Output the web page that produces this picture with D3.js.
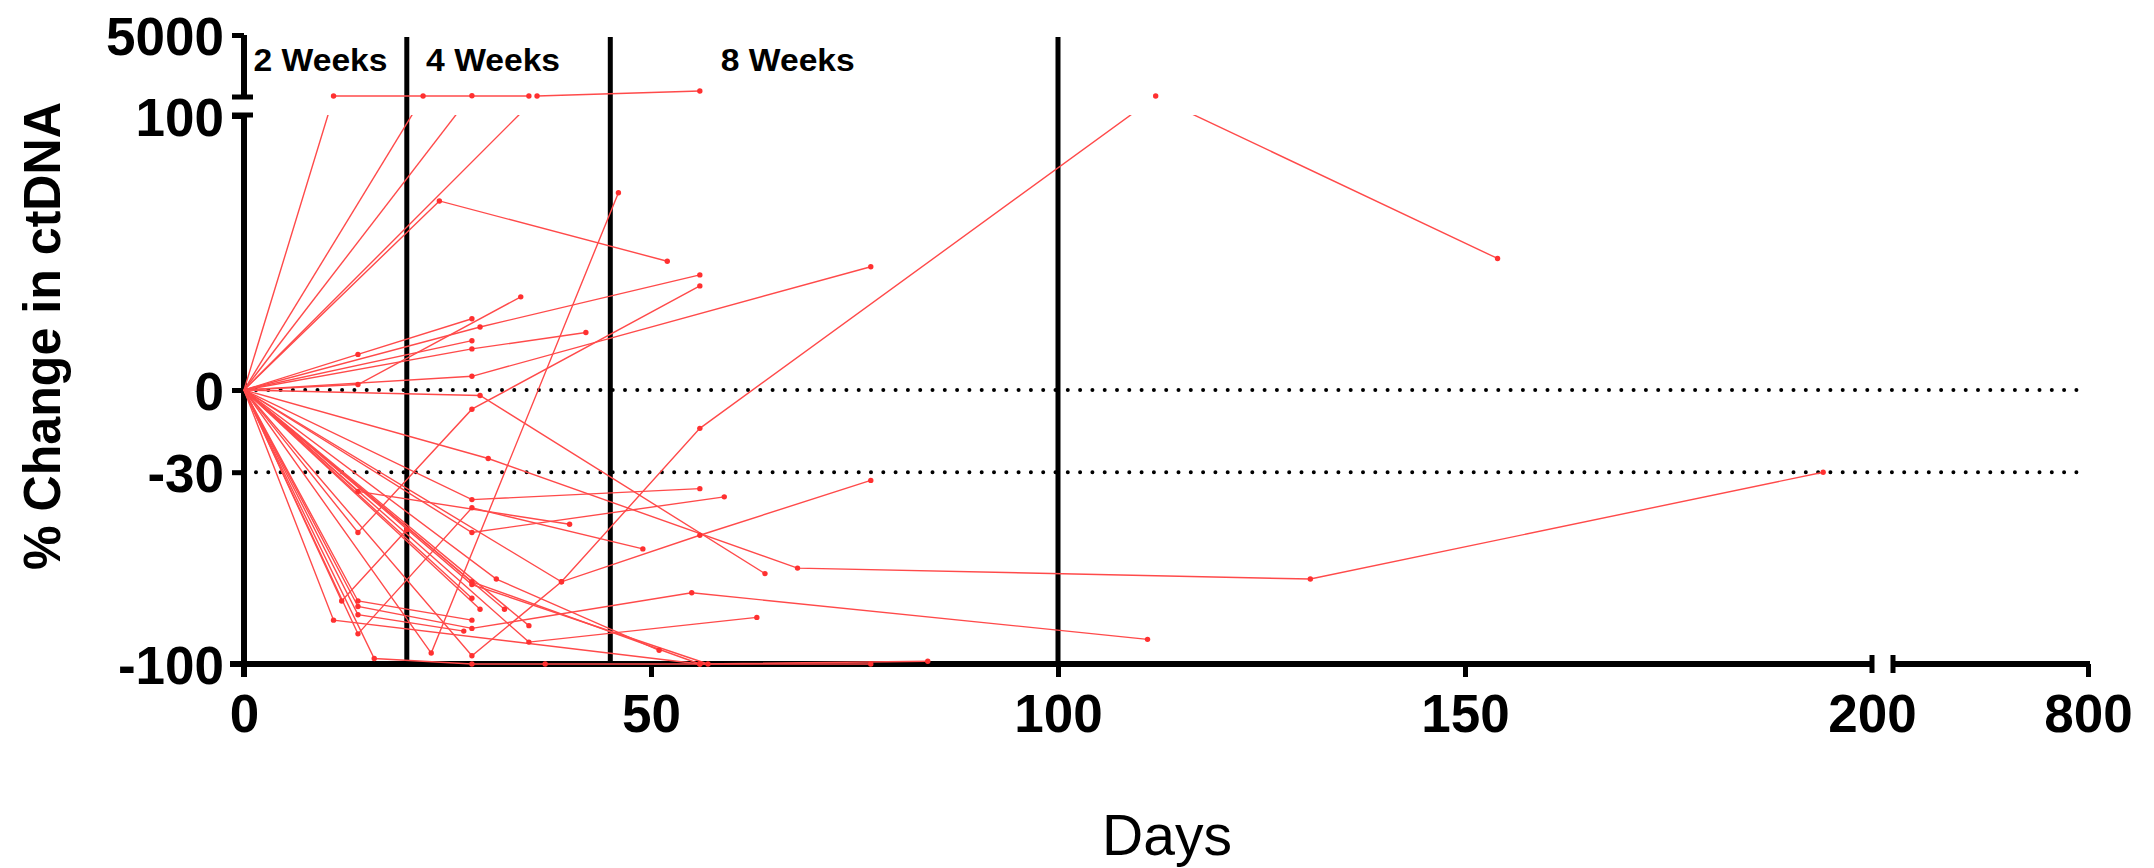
<!DOCTYPE html>
<html>
<head>
<meta charset="utf-8">
<script src="https://cdn.jsdelivr.net/npm/d3@7"></script>
<style>
  html, body { margin: 0; padding: 0; background: #ffffff; }
  svg { display: block; }
</style>
</head>
<body>
<svg id="chart" width="2154" height="868"></svg>
<script>
// ---------------- data (day, % change in ctDNA) ----------------
const p01 = [[0,0],[11,107],[35,107]];
const p02 = [[0,0],[22,107]];
const p03 = [[0,0],[28,108]];
const p04 = [[0,0],[36,107],[56,146]];
const p05 = [[0,0],[24,69],[52,47]];
const p06 = [[0,0],[23,-96],[46,72]];
const p07 = [[0,0],[14,2],[34,34]];
const p08 = [[0,0],[14,13],[28,26]];
const p09 = [[0,0],[29,23],[56,42]];
const p10 = [[0,0],[28,18]];
const p11 = [[0,0],[28,15],[42,21]];
const p12 = [[0,0],[28,5],[77,45]];
const p13 = [[0,0],[14,-52],[28,-7],[56,38]];
const p14 = [[0,0],[29,-2],[64,-67]];
const p15 = [[0,0],[28,-97],[39,-70],[56,-14],[112,107],[154,48]];
const p16 = [[0,0],[30,-25],[68,-65],[131,-69],[194,-30]];
const p17 = [[0,0],[14,-89],[28,-43],[49,-58]];
const p18 = [[0,0],[39,-70],[56,-53],[77,-33]];
const p19 = [[0,0],[28,-40],[56,-36]];
const p20 = [[0,0],[14,-37],[40,-49]];
const p21 = [[0,0],[28,-52],[59,-39]];
const p22 = [[0,0],[14,-79],[28,-87],[55,-74],[111,-91]];
const p23 = [[0,0],[14,-82],[27,-88]];
const p24 = [[0,0],[14,-77],[28,-84]];
const p25 = [[0,0],[16,-98],[28,-100],[37,-100],[77,-100]];
const p26 = [[0,0],[11,-84],[56,-100],[84,-99]];
const p27 = [[0,0],[12,-77],[20,-51]];
const p28 = [[0,0],[31,-69],[51,-95]];
const p29 = [[0,0],[28,-70],[56,-100]];
const p30 = [[0,0],[28,-71],[57,-100]];
const p31 = [[0,0],[28,-76]];
const p32 = [[0,0],[29,-80]];
const p33 = [[0,0],[32,-80]];
const p34 = [[0,0],[35,-86]];
const p35 = [[0,0],[35,-92],[63,-83]];
const patients = [p01,p02,p03,p04,p05,p06,p07,p08,p09,p10,p11,p12,p13,p14,p15,p16,p17,p18,
                  p19,p20,p21,p22,p23,p24,p25,p26,p27,p28,p29,p30,p31,p32,p33,p34,p35];

const xTicksMain = [0, 50, 100, 150, 200];
const xTicksTail = [800];
const yTicksLow = [-100, -30, 0, 100];
const yTicksHigh = [5000];
const refLevels = [0, -30];
const weekDays = [20, 45, 100];
const weekLabels = ["2 Weeks", "4 Weeks", "8 Weeks"];
const weekLabelDays = [9.4, 30.6, 66.8];

// ---------------- scales ----------------
const x = d3.scaleLinear().domain([0, 200]).range([244, 1872]);
const xTail = d3.scaleLinear().domain([200, 800]).range([1893, 2088]);
const yLow = d3.scaleLinear().domain([-100, 100]).range([664, 116]);
const yHigh = d3.scaleLog().domain([100, 5000]).range([97, 35]);

const svg = d3.select("#chart");
const FONT = "'Liberation Sans', Arial, Helvetica, sans-serif";
const RED_LINE = "#ff4a4a";
const RED_PT = "#ff3030";
const fmt = d => String(d);   // plain hyphen-minus like the original

// ---------------- week separators ----------------
svg.append("g").selectAll("line").data(weekDays).join("line")
  .attr("x1", d => x(d)).attr("x2", d => x(d))
  .attr("y1", 37).attr("y2", yLow(-100))
  .attr("stroke", "#000").attr("stroke-width", 5);

svg.append("g").selectAll("text").data(weekLabels).join("text")
  .attr("x", (d, i) => x(weekLabelDays[i]))
  .attr("y", 71)
  .attr("text-anchor", "middle")
  .attr("font-family", FONT).attr("font-weight", "bold").attr("font-size", 31)
  .attr("textLength", 134).attr("lengthAdjust", "spacingAndGlyphs")
  .text(d => d);

// ---------------- dotted reference lines ----------------
svg.append("g").selectAll("line").data(refLevels).join("line")
  .attr("x1", 256).attr("x2", xTail(800))
  .attr("y1", d => yLow(d)).attr("y2", d => yLow(d))
  .attr("stroke", "#000").attr("stroke-width", 4)
  .attr("stroke-linecap", "round").attr("stroke-dasharray", "0,12.3");

// ---------------- axes ----------------
function styleAxis(g) {
  g.selectAll(".domain").remove();
  g.selectAll(".tick line").attr("stroke", "#000").attr("stroke-width", 5);
  g.selectAll(".tick text").attr("font-family", FONT).attr("font-weight", "bold")
    .attr("font-size", 53).attr("fill", "#000");
}

const gx = svg.append("g").attr("transform", `translate(0,${yLow(-100)})`)
  .call(d3.axisBottom(x).tickValues(xTicksMain.slice(0, 4)).tickSize(13).tickPadding(17).tickFormat(fmt));
styleAxis(gx);
const gx2 = svg.append("g").attr("transform", `translate(0,${yLow(-100)})`)
  .call(d3.axisBottom(x).tickValues([xTicksMain[4]]).tickSize(0).tickPadding(30).tickFormat(fmt));
styleAxis(gx2);
const gx3 = svg.append("g").attr("transform", `translate(0,${yLow(-100)})`)
  .call(d3.axisBottom(xTail).tickValues(xTicksTail).tickSize(13).tickPadding(17).tickFormat(fmt));
styleAxis(gx3);

svg.append("line").attr("x1", 230).attr("x2", x(200)).attr("y1", yLow(-100)).attr("y2", yLow(-100))
  .attr("stroke", "#000").attr("stroke-width", 6);
svg.append("line").attr("x1", xTail(200)).attr("x2", xTail(800) + 2).attr("y1", yLow(-100)).attr("y2", yLow(-100))
  .attr("stroke", "#000").attr("stroke-width", 6);
[x(200), xTail(200)].forEach(cx => {
  svg.append("line").attr("x1", cx).attr("x2", cx).attr("y1", yLow(-100) - 9).attr("y2", yLow(-100) + 9)
    .attr("stroke", "#000").attr("stroke-width", 5);
});

const gy = svg.append("g").attr("transform", "translate(244,0)")
  .call(d3.axisLeft(yLow).tickValues(yTicksLow).tickSize(12).tickPadding(8).tickFormat(fmt));
styleAxis(gy);
gy.selectAll(".tick text").attr("dy", "0.36em");
const gy2 = svg.append("g").attr("transform", "translate(244,0)")
  .call(d3.axisLeft(yHigh).tickValues(yTicksHigh).tickSize(12).tickPadding(8).tickFormat(fmt));
styleAxis(gy2);
gy2.selectAll(".tick text").attr("dy", "0.36em");

svg.append("line").attr("x1", 244).attr("x2", 244).attr("y1", 115).attr("y2", yLow(-100) + 13)
  .attr("stroke", "#000").attr("stroke-width", 6);
svg.append("line").attr("x1", 244).attr("x2", 244).attr("y1", yHigh(5000)).attr("y2", yHigh(100))
  .attr("stroke", "#000").attr("stroke-width", 6);
[115, yHigh(100)].forEach(cy => {
  svg.append("line").attr("x1", 232).attr("x2", 253).attr("y1", cy).attr("y2", cy)
    .attr("stroke", "#000").attr("stroke-width", 5);
});

svg.append("text")
  .attr("transform", "translate(60,336) rotate(-90)")
  .attr("text-anchor", "middle")
  .attr("font-family", FONT).attr("font-weight", "bold").attr("font-size", 52)
  .attr("textLength", 468).attr("lengthAdjust", "spacingAndGlyphs")
  .text("% Change in ctDNA");

svg.append("text")
  .attr("x", 1167).attr("y", 855)
  .attr("text-anchor", "middle")
  .attr("font-family", FONT).attr("font-size", 57)
  .text("Days");

// ---------------- data ----------------
const defs = svg.append("defs");
defs.append("clipPath").attr("id", "clipLow").append("rect")
  .attr("x", 0).attr("y", 115).attr("width", 2154).attr("height", 600);

const lineLow = d3.line().x(d => x(d[0])).y(d => yLow(d[1]));
const lineHigh = d3.line().x(d => x(d[0])).y(d => yHigh(d[1]));

const gData = svg.append("g");
gData.append("g").attr("clip-path", "url(#clipLow)")
  .selectAll("path").data(patients).join("path")
  .attr("d", lineLow)
  .attr("fill", "none").attr("stroke", RED_LINE).attr("stroke-width", 1.4);

const highSegs = [];
patients.forEach(p => {
  for (let i = 1; i < p.length; i++) {
    if (p[i - 1][1] > 100 && p[i][1] > 100) highSegs.push([p[i - 1], p[i]]);
  }
});
gData.append("g").selectAll("path").data(highSegs).join("path")
  .attr("d", lineHigh)
  .attr("fill", "none").attr("stroke", RED_LINE).attr("stroke-width", 1.4);

const pts = [];
patients.forEach(p => p.slice(1).forEach(d => pts.push(d)));
gData.append("g").selectAll("circle").data(pts).join("circle")
  .attr("cx", d => x(d[0]))
  .attr("cy", d => d[1] > 100 ? yHigh(d[1]) : yLow(d[1]))
  .attr("r", 2.7)
  .attr("fill", RED_PT);
</script>
</body>
</html>
